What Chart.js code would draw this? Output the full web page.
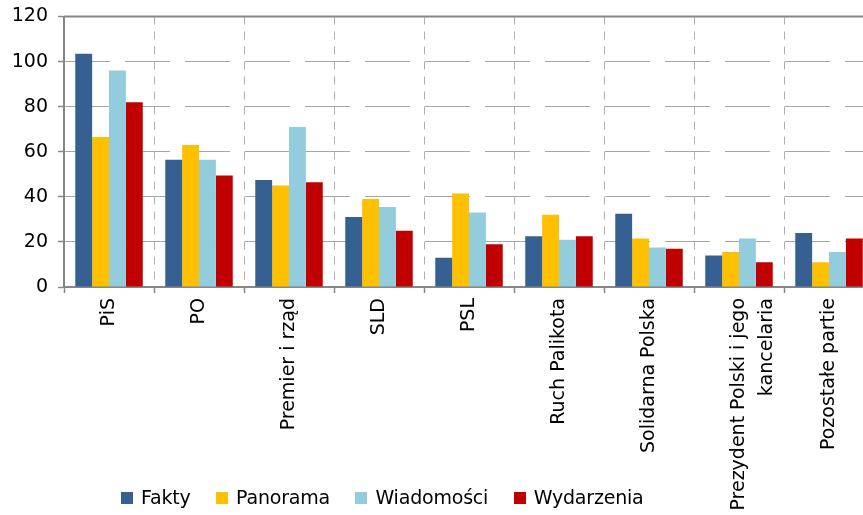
<!DOCTYPE html>
<html lang="pl">
<head>
<meta charset="utf-8">
<title>Fakty, Panorama, Wiadomości, Wydarzenia</title>
<script src="https://cdn.jsdelivr.net/npm/chart.js@4/dist/chart.umd.min.js"></script>
<style>
  html, body { margin: 0; padding: 0; background: #fff; overflow: hidden; }
  #wrap { position: relative; width: 863px; height: 515px; overflow: hidden; }
  #legend {
    position: absolute; left: 121px; top: 488px;
    display: flex; font: 19px 'DejaVu Sans', sans-serif; color: #000; line-height: 19px;
    letter-spacing: -0.2px;
  }
  #legend .item { display: flex; align-items: center; margin-right: 25.5px; white-space: nowrap; }
  #legend .box { width: 12px; height: 12px; margin-right: 8px; }
</style>
</head>
<body>
<div id="wrap">
  <canvas id="myChart" width="878" height="515"></canvas>
  <div id="legend"></div>
</div>
<script>
// categories (x axis)
const categories = [
  'PiS',
  'PO',
  'Premier i rząd',
  'SLD',
  'PSL',
  'Ruch Palikota',
  'Solidarna Polska',
  ['Prezydent Polski i jego', 'kancelaria'],
  'Pozostałe partie'
];

// series values
const fakty = [103.5, 56.5, 47.5, 31, 13, 22.5, 32.5, 14, 24];
const panorama = [66.5, 63, 45, 39, 41.5, 32, 21.5, 15.5, 11];
const wiadomosci = [96, 56.5, 71, 35.5, 33, 21, 17.5, 21.5, 15.5];
const wydarzenia = [82, 49.5, 46.5, 25, 19, 22.5, 17, 11, 21.5];

// y ticks
const yMin = 0;
const yMax = 120;
const yStep = 20;

const seriesNames = ['Fakty', 'Panorama', 'Wiadomości', 'Wydarzenia'];
const seriesColors = ['#366092', '#ffc000', '#93cddd', '#c00000'];
const seriesValues = [fakty, panorama, wiadomosci, wydarzenia];

Chart.defaults.font.family = "'DejaVu Sans', sans-serif";
Chart.defaults.color = '#000';

// solid top edge of the plot area
const plotTopLine = {
  id: 'plotTopLine',
  afterDraw(chart) {
    const { ctx, chartArea } = chart;
    ctx.save();
    ctx.strokeStyle = '#868686';
    ctx.lineWidth = 2;
    ctx.beginPath();
    ctx.moveTo(chartArea.left, chartArea.top);
    ctx.lineTo(chartArea.right, chartArea.top);
    ctx.stroke();
    ctx.restore();
  }
};

const data = {
  labels: categories,
  datasets: seriesNames.map((name, i) => ({
    label: name,
    data: seriesValues[i],
    backgroundColor: seriesColors[i],
    borderWidth: 0,
    categoryPercentage: 0.75,
    barPercentage: 1
  }))
};

const config = {
  type: 'bar',
  data: data,
  options: {
    responsive: false,
    animation: false,
    layout: { padding: { top: 16.5, left: 0, right: 4, bottom: 0 } },
    plugins: {
      legend: { display: false },
      tooltip: { enabled: false }
    },
    scales: {
      x: {
        afterFit: (scale) => {
          scale.height = 228;
          scale.paddingLeft = 0;
          scale.paddingRight = 0;
        },
        grid: {
          color: '#b0b0b0',
          lineWidth: 1,
          tickLength: 6,
          tickColor: '#868686',
          tickWidth: 1.5
        },
        border: { display: true, color: '#868686', width: 2, dash: [8, 7] },
        ticks: {
          autoSkip: false,
          minRotation: 90,
          maxRotation: 90,
          padding: 5,
          font: { size: 19, lineHeight: 1.47 }
        }
      },
      y: {
        min: yMin,
        max: yMax,
        afterFit: (scale) => {
          scale.width = 64;
          scale.paddingTop = 0;
          scale.paddingBottom = 0;
        },
        grid: {
          color: '#a6a6a6',
          lineWidth: 1,
          tickLength: 6,
          tickColor: '#868686',
          tickWidth: 1.5
        },
        border: { display: true, color: '#868686', width: 2, dash: [45, 15] },
        ticks: {
          stepSize: yStep,
          padding: 10,
          font: { size: 19 }
        }
      }
    }
  },
  plugins: [plotTopLine]
};

const canvasChart = document.getElementById('myChart');
const myChart = new Chart(canvasChart, config);

// html legend built from the chart's datasets
const legendEl = document.getElementById('legend');
myChart.data.datasets.forEach((ds) => {
  const item = document.createElement('span');
  item.className = 'item';
  const box = document.createElement('span');
  box.className = 'box';
  box.style.background = ds.backgroundColor;
  const txt = document.createElement('span');
  txt.textContent = ds.label;
  item.appendChild(box);
  item.appendChild(txt);
  legendEl.appendChild(item);
});
</script>
</body>
</html>
